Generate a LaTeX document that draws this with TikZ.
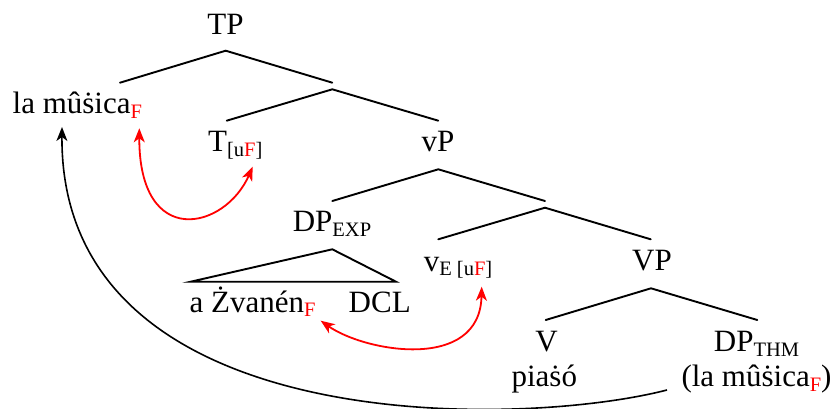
\documentclass[tikz,border=0pt]{standalone}
\usepackage{fontspec}
\setmainfont{Liberation Serif}
\usetikzlibrary{arrows.meta}
\newcommand{\lsub}[1]{\raisebox{-4.5pt}{\fontsize{20.5}{22}\selectfont #1}}
\newcommand{\fF}{\textcolor{red}{F}}
\newcommand{\sdot}{ṡ}
\begin{document}
\begin{tikzpicture}[x=1pt,y=-1pt,
  lbl/.style={inner sep=0pt, anchor=base, font=\fontsize{31}{35}\selectfont},
  branch/.style={line width=1.9pt, line cap=round},
  movearr/.style={line width=1.6pt, -{Stealth[length=14pt,width=11pt,inset=4pt]}},
  agree/.style={line width=1.8pt, red, {Stealth[length=14pt,width=11pt,inset=4pt]}-{Stealth[length=14pt,width=11pt,inset=4pt]}}]
\useasboundingbox (0,0) rectangle (836,409);
% labels
\node[lbl] (tp) at (225.5,35) {TP};
\node[lbl] (mus) at (77.3,114) {la mû\sdot ica\lsub{\fF}};
\node[lbl] (t) at (235.3,152) {T\lsub{[u\fF]}};
\node[lbl] (vp) at (438,152) {vP};
\node[lbl] (dpexp) at (332,232) {DP\lsub{EXP}};
\node[lbl] (zv) at (252.5,312) {a Żvanén\lsub{\fF}};
\node[lbl] (dcl) at (379.7,312) {DCL};
\node[lbl] (ve) at (458,271) {v\lsub{E [u\fF]}};
\node[lbl] (bigvp) at (652,270) {VP};
\node[lbl] (v) at (546.5,351.7) {V};
\node[lbl] (pia) at (544.3,386.7) {pia\sdot ó};
\node[lbl] (dpthm) at (756.5,351.7) {DP\lsub{THM}};
\node[lbl] (mus2) at (756.5,386.7) {(la mû\sdot ica\lsub{\fF})};
% tree coordinates
\coordinate (a1) at (225.7,50.7);
\coordinate (a1l) at (120,82.7);
\coordinate (a1r) at (332.3,82.7);
\coordinate (a2) at (332.3,89.3);
\coordinate (a2l) at (226.7,120.7);
\coordinate (a2r) at (438.3,120.7);
\coordinate (a3) at (438.3,169.3);
\coordinate (a3l) at (332.3,201);
\coordinate (a3r) at (545,201);
\coordinate (a4) at (545,207.7);
\coordinate (a4l) at (438.3,239.3);
\coordinate (a4r) at (650.7,239.3);
\coordinate (a5) at (651,288.3);
\coordinate (a5l) at (545.7,320);
\coordinate (a5r) at (757.3,320);
\coordinate (tri) at (332.3,249.3);
\coordinate (tril) at (190.7,281.7);
\coordinate (trir) at (396,281.7);
\draw[branch] (a1l) -- (a1) -- (a1r);
\draw[branch] (a2l) -- (a2) -- (a2r);
\draw[branch] (a3l) -- (a3) -- (a3r);
\draw[branch] (a4l) -- (a4) -- (a4r);
\draw[branch] (a5l) -- (a5) -- (a5r);
\draw[branch, line join=miter] (tri) -- (tril) -- (trir) -- cycle;
% arrows
\coordinate (mvfrom) at (667,390);
\coordinate (mvto) at (62,127);
\draw[movearr] (mvfrom) .. controls (520,428) and (60,440) .. (mvto);
\coordinate (r1a) at (139.3,128.3);
\coordinate (r1b) at (252.7,166.7);
\draw[agree] (r1a) .. controls (139,250) and (225,230) .. (r1b);
\coordinate (r2a) at (320.7,320.7);
\coordinate (r2b) at (481.7,286.7);
\draw[agree] (r2a) .. controls (365,352) and (480,372) .. (r2b);
\end{tikzpicture}
\end{document}
